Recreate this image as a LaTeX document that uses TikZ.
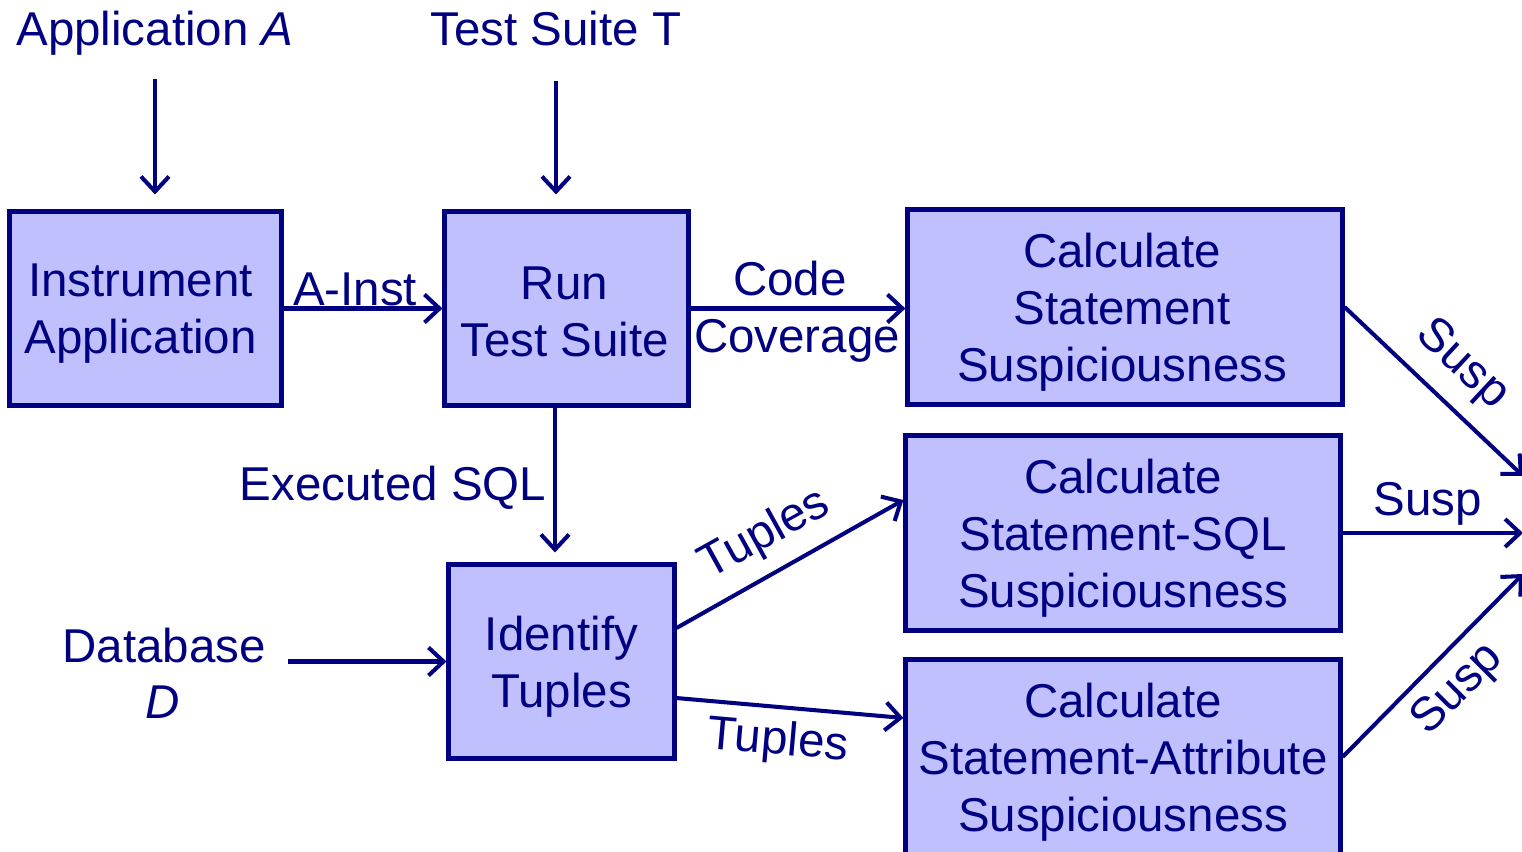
\documentclass[tikz,border=0pt]{standalone}
\usepackage{fontspec}
\setmainfont{Liberation Sans}
\usetikzlibrary{arrows.meta,calc}
\definecolor{navy}{RGB}{0,0,128}
\definecolor{boxfill}{RGB}{192,192,255}
\begin{document}
\begin{tikzpicture}[x=0.01cm,y=-0.01cm,
  font=\fontsize{13.5}{16.2}\selectfont,
  box/.style args={#1/#2}{rectangle, draw=navy, fill=boxfill, line width=1.4pt,
    minimum width=#1cm, minimum height=#2cm, inner sep=0pt},
  txt/.style={align=center, inner sep=0pt, text=navy},
  arr/.style={draw=navy, line width=1.15pt,
    -{Straight Barb[length=1.5mm,width=2.8mm]}}]
\useasboundingbox (0,0) rectangle (1522,852);
\clip (0,0) rectangle (1522,852);

% boxes
\node[box=2.71/1.93] (b1) at (145.5,308.5) {};
\node[box=2.43/1.93] (b2) at (566.5,308.5) {};
\node[box=4.34/1.94] (b3) at (1125,307) {};
\node[box=4.34/1.94] (b4) at (1123,533) {};
\node[box=2.25/1.93] (b5) at (561.5,661.5) {};
\node[box=4.34/1.94] (b6) at (1123,757) {};

% box texts
\node[txt] (b1t) at ([xshift=-0.05cm,yshift=-0.05cm]b1.center) {Instrument\\Application};
\node[txt] (b2t) at ([xshift=-0.02cm,yshift=-0.03cm]b2.center) {Run\\Test Suite};
\node[txt] (b3t) at ([xshift=-0.03cm,yshift=-0.05cm]b3.center) {Calculate\\Statement\\Suspiciousness};
\node[txt] (b4t) at ([yshift=-0.05cm]b4.center) {Calculate\\Statement-SQL\\Suspiciousness};
\node[txt] (b5t) at ([yshift=-0.05cm]b5.center) {Identify\\Tuples};
\node[txt] (b6t) at ([yshift=-0.05cm]b6.center) {Calculate\\Statement-Attribute\\Suspiciousness};

% inputs
\node[txt, anchor=base] (lA) at (155,46) {Application \textit{A}};
\node[txt, anchor=base] (lT) at (556,46) {Test Suite T};
\node[txt, anchor=base] (db) at (164,662) {Database};
\node[txt, anchor=base] (dbD) at (163,718) {\textit{D}};

\draw[arr, shorten <=0.22cm, shorten >=0.15cm] (lA.south) -- (lA.south |- b1.north);
\draw[arr, shorten <=0.34cm, shorten >=0.15cm] (lT.south) -- (lT.south |- b2.north);
\draw[arr, shorten <=0.22cm] (db.east |- b5.west) -- (b5.west);

% A-Inst
\draw[arr] (b1) -- (b2);
\node[txt, anchor=base] (lAI) at (355,305) {A-Inst};

% Code coverage
\draw[arr] (b2.east) -- (b2.east -| b3.west);
\node[txt, anchor=base] (lC1) at (790,295) {Code};
\node[txt, anchor=base] (lC2) at (797,352) {Coverage};

% Executed SQL
\coordinate (xs) at (555,0);
\draw[arr, shorten >=0.1cm] (b2.south -| xs) -- (b5.north -| xs);
\node[txt, anchor=base] (lSQL) at (393,500) {Executed SQL};

% Tuples
\draw[arr] ([yshift=0.335cm]b5.east) -- ([yshift=0.33cm]b4.west);
\draw[arr] ([yshift=-0.365cm]b5.east) -- ([yshift=0.39cm]b6.west);
\node[txt, rotate=29] (lt1) at (765,535) {Tuples};
\node[txt, rotate=-5] (lt2) at (778,742) {Tuples};

% Susp
\coordinate (t1) at (1523,476);
\coordinate (t2) at (1523,533);
\coordinate (t3) at (1523,574);
\draw[arr] (b3.east) -- (t1);
\draw[arr] (b4.east) -- (t2);
\draw[arr] (b6.east) -- (t3);
\node[txt, rotate=-43] (ls1) at (1462,365) {Susp};
\node[txt, anchor=base] (ls2) at (1428,515) {Susp};
\node[txt, rotate=45] (ls3) at (1458,690) {Susp};
\end{tikzpicture}
\end{document}
